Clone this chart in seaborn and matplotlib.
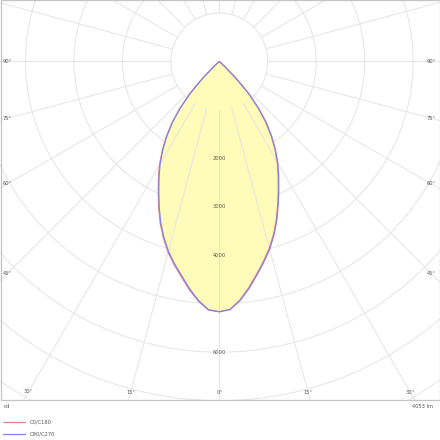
import numpy as np
import pandas as pd
import matplotlib
matplotlib.use("Agg")
import matplotlib.pyplot as plt
from matplotlib.patches import Rectangle
from matplotlib.lines import Line2D
import seaborn as sns

# ---- data (luminous intensity, cd) ----
angles_deg = [0, 2.5, 5, 7.5, 10, 12.5, 15, 17.5, 20, 22.5, 25, 27.5, 30, 32.5, 35, 37.5, 40,
              42.5, 45, 47.5, 50, 55, 60, 65, 70, 75, 80, 85, 90]
c0 = [5165, 5120, 4935, 4700, 4450, 4220, 3990, 3730, 3450, 3160, 2880, 2630, 2390, 2130, 1860,
      1570, 1240, 880, 465, 125, 35, 15, 10, 7, 5, 3, 2, 1, 0]
c180 = [5165, 5135, 4965, 4750, 4510, 4300, 4080, 3830, 3560, 3270, 2980, 2720, 2470, 2200, 1920,
        1620, 1280, 910, 480, 130, 35, 15, 10, 7, 5, 3, 2, 1, 0]
c90 = [5165, 5128, 4950, 4722, 4475, 4245, 4015, 3755, 3475, 3185, 2905, 2655, 2415, 2155, 1885,
       1595, 1265, 905, 490, 135, 38, 16, 10, 7, 5, 3, 2, 1, 0]
c270 = [5165, 5128, 4950, 4725, 4485, 4275, 4055, 3805, 3535, 3245, 2955, 2695, 2445, 2175, 1895,
        1595, 1255, 885, 465, 125, 33, 14, 10, 7, 5, 3, 2, 1, 0]
series_labels = ["C0/C180", "C90/C270"]
ring_values = [1000, 2000, 3000, 4000, 5000, 6000, 7000, 8000, 9000]
ring_labels = [2000, 3000, 4000, 6000]
angle_labels = [0, 15, 30, 45, 60, 75, 90]
unit_label = "cd"
flux_label = "4053 lm"

sns.set_theme(style="white")
plt.rcParams["font.family"] = ["DejaVu Sans"]

W = H = 440
fig = plt.figure(figsize=(4.4, 4.4), dpi=100)
fig.patch.set_facecolor("white")

cx, cy = 219.3, 61.5          # centre in pixels (from top-left)
px_per_cd = 0.04845
rmax = 9000
R = rmax * px_per_cd
ax = fig.add_axes([(cx - R) / W, (H - cy - R) / H, 2 * R / W, 2 * R / H], projection="polar")
ax.set_theta_zero_location("S")
ax.set_facecolor("white")

full_deg = [-a for a in reversed(angles_deg[1:])] + angles_deg
red = list(reversed(c180[1:])) + c0
blue = list(reversed(c270[1:])) + c90
df = pd.DataFrame({
    "theta": np.deg2rad(full_deg * 2),
    "cd": red + blue,
    "plane": [series_labels[0]] * len(full_deg) + [series_labels[1]] * len(full_deg),
})

ax.fill(np.deg2rad(full_deg), red, color="#fffbb8", lw=0, zorder=1)

red_c, blue_c = "#e88080", "#8484e6"
sns.lineplot(data=df, x="theta", y="cd", hue="plane", hue_order=series_labels,
             palette=[red_c, blue_c], estimator=None, sort=False,
             lw=0.9, legend=False, ax=ax, zorder=3)

grid_c = "#e6e6e6"
ax.set_xticks([])
ax.set_yticks(ring_values)
ax.set_yticklabels([])
ax.yaxis.grid(True, color=grid_c, lw=0.75, zorder=1.5)
ax.spines["polar"].set_visible(False)
for a in range(0, 360, 15):
    t = np.deg2rad(a)
    ax.plot([t, t], [1000, rmax], color=grid_c, lw=0.75, zorder=1.5)
ax.set_ylim(0, rmax)
ax.set_xlabel("")
ax.set_ylabel("")

tc = "#555555"
fs = 3.7
for v in ring_labels:
    ax.text(0, v, str(v), ha="center", va="center", fontsize=fs, color=tc, zorder=4)

for a in angle_labels:
    t = np.deg2rad(a)
    if a >= 45:
        d = 212.0 / np.sin(t)
    else:
        d = 330.5 / np.cos(t)
    r = d / px_per_cd
    for s in ([1] if a == 0 else [1, -1]):
        ax.text(s * t, r, f"{a}°", ha="center", va="center", fontsize=fs, color=tc,
                zorder=4, clip_on=False)

# cover below the frame, then frame
fig.patches.append(Rectangle((0, 0), 1, 40.5 / H, transform=fig.transFigure,
                             facecolor="white", edgecolor="none", zorder=3))
fig.patches.append(Rectangle((0.5 / W, 40.5 / H), 439 / W, 399 / H, transform=fig.transFigure,
                             facecolor="none", edgecolor="#c4c4c4", lw=0.9, zorder=3.5))

fig.text(4 / W, 1 - 406.5 / H, unit_label, ha="left", va="center", fontsize=4.1, color=tc, zorder=4)
fig.text(433 / W, 1 - 406.5 / H, flux_label, ha="right", va="center", fontsize=fs, color=tc, zorder=4)

handles = [Line2D([], [], color=red_c, lw=0.9), Line2D([], [], color=blue_c, lw=0.9)]
leg = fig.legend(handles, series_labels, loc="upper left", bbox_to_anchor=(3 / W, 1 - 419.5 / H),
                 frameon=False, fontsize=fs, handlelength=4.2, handletextpad=1.0,
                 labelspacing=1.45, borderpad=0, borderaxespad=0)
for t in leg.get_texts():
    t.set_color(tc)
leg.set_zorder(5)

fig.savefig("out.png", dpi=100, facecolor="white")
